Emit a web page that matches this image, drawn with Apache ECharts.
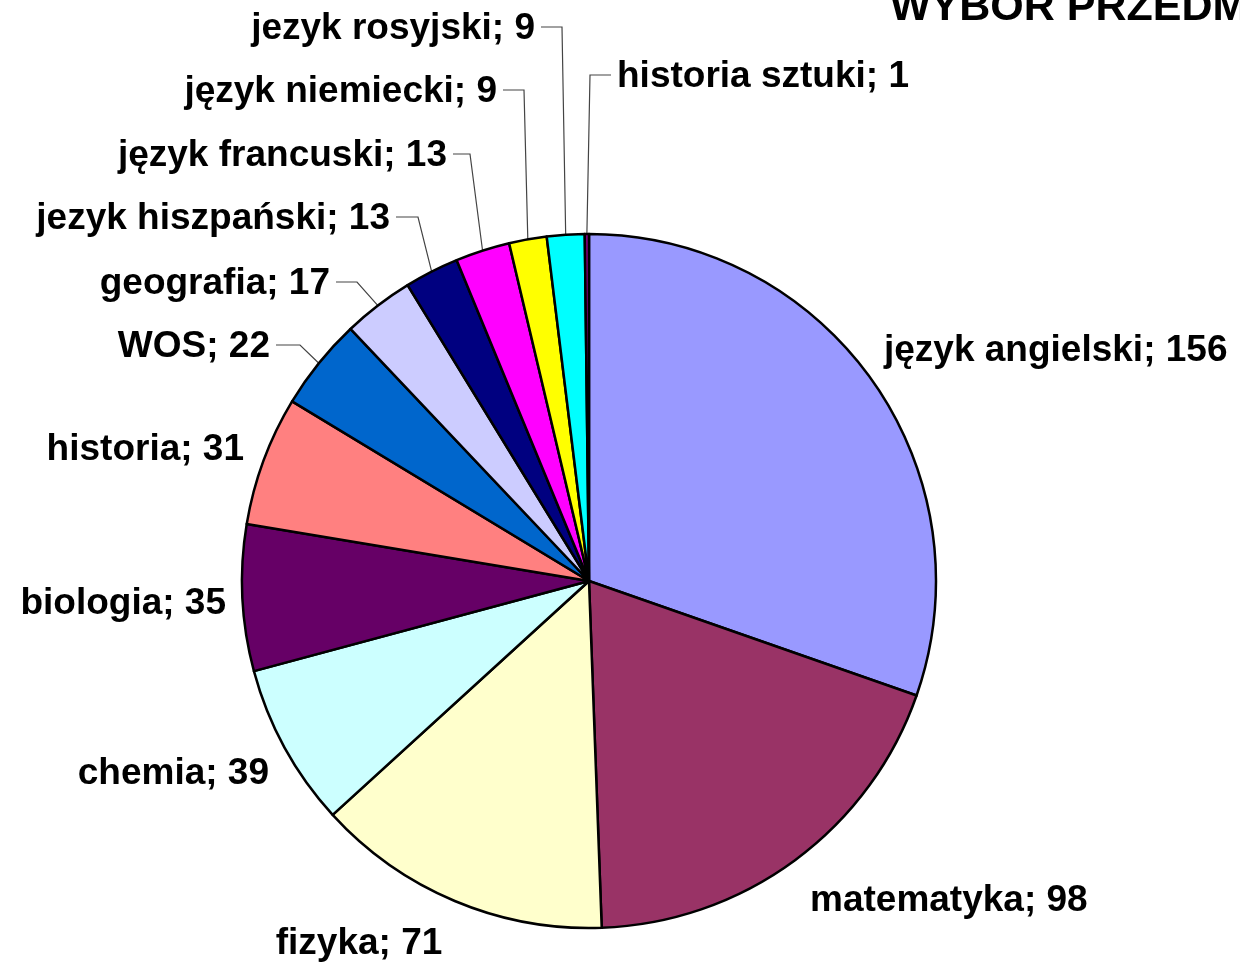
<!DOCTYPE html>
<html>
<head>
<meta charset="utf-8">
<script src="https://cdn.jsdelivr.net/npm/echarts@6/dist/echarts.min.js"></script>
<style>
  html, body { margin: 0; padding: 0; background: #fff; }
  #chart { width: 1240px; height: 968px; }
</style>
</head>
<body>
<div id="chart"></div>
<script>
const subjects = ['język angielski', 'matematyka', 'fizyka', 'chemia', 'biologia', 'historia', 'WOS',
  'geografia', 'jezyk hiszpański', 'język francuski', 'język niemiecki', 'jezyk rosyjski', 'historia sztuki'];
const counts = [156, 98, 71, 39, 35, 31, 22, 17, 13, 13, 9, 9, 1];
const colors = ['#9999FF', '#993366', '#FFFFCC', '#CCFFFF', '#660066', '#FF8080', '#0066CC',
  '#CCCCFF', '#000080', '#FF00FF', '#FFFF00', '#00FFFF', '#800080'];

// where each label sits: [x, y, align]
const labelAnchors = [
  [884, 351, 'left'], [810, 901, 'left'], [359, 944, 'center'], [269, 774, 'right'],
  [226, 604, 'right'], [244, 450, 'right'], [270, 347, 'right'], [330, 284, 'right'],
  [390, 219, 'right'], [447, 156, 'right'], [497, 92, 'right'], [535, 29, 'right'],
  [617, 77, 'left']
];
// x of the leader line bend, null = no leader line
const elbowX = [null, null, null, null, null, null, 300, 357, 418, 470, 524, 562, 590];

const font = 'Liberation Sans, Arial, sans-serif';

const chart = echarts.init(document.getElementById('chart'));

chart.setOption({
  animation: false,
  title: {
    text: 'WYBÓR PRZEDMIOTÓW',
    left: 890,
    top: -13,
    padding: 0,
    textStyle: { fontSize: 43, fontWeight: 'bold', fontFamily: font, color: '#000' }
  },
  series: [{
    type: 'pie',
    center: [589, 581],
    radius: 347,
    startAngle: 90,
    clockwise: true,
    avoidLabelOverlap: false,
    itemStyle: { borderColor: '#000', borderWidth: 2.5 },
    label: {
      show: true,
      position: 'outside',
      formatter: '{b}; {c}',
      fontFamily: font,
      fontSize: 37,
      fontWeight: 'bold',
      color: '#000'
    },
    labelLine: { show: true, lineStyle: { color: '#444', width: 1.2 } },
    labelLayout: function (params) {
      const a = labelAnchors[params.dataIndex];
      const ex = elbowX[params.dataIndex];
      const res = { x: a[0], y: a[1], align: a[2], verticalAlign: 'middle' };
      if (ex !== null && params.labelLinePoints) {
        const p0 = params.labelLinePoints[0];
        const endX = a[2] === 'right' ? a[0] + 6 : a[0] - 6;
        res.labelLinePoints = [[p0[0], p0[1]], [ex, a[1] - 2], [endX, a[1] - 2]];
      }
      return res;
    },
    data: subjects.map((s, i) => ({
      name: s,
      value: counts[i],
      itemStyle: { color: colors[i] },
      labelLine: { show: elbowX[i] !== null }
    }))
  }]
});
</script>
</body>
</html>
